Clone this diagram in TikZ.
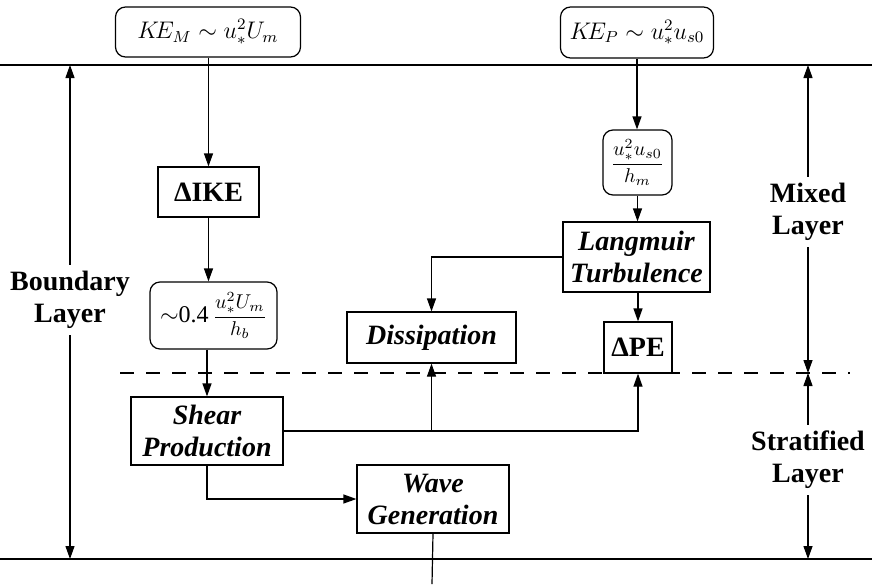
\documentclass[tikz,border=0pt]{standalone}
\usepackage{fontspec}
\setmainfont{Liberation Serif}
\usetikzlibrary{arrows.meta}

\tikzset{
  box/.style={draw, line width=0.6pt, inner sep=1pt, align=center,
    font=\fontsize{14}{16}\selectfont\bfseries\itshape},
  rbox/.style={box, rounded corners=5pt, font=\fontsize{12}{14}\selectfont},
  layer/.style={align=center, inner sep=3pt, font=\fontsize{14}{16}\selectfont\bfseries},
  arr/.style={-{Triangle[length=6.5pt,width=4.5pt]}, line width=0.6pt},
}
\newcommand{\ratio}[2]{{\fontsize{10}{12}\selectfont$\displaystyle\frac{#1}{#2}$}}

\begin{document}
\begin{tikzpicture}[x=0.5pt, y=-0.5pt, line width=0.6pt]
  \useasboundingbox (0,0) rectangle (872,584);

  % layer limits
  \coordinate (top) at (0,65);
  \coordinate (bot) at (0,559);
  \coordinate (mid) at (120,373);
  \draw (top) -- (872,65);
  \draw (bot) -- (872,559);
  \draw[dash pattern=on 7pt off 6pt] (mid) -- (850,373);

  % energy sources
  \node[rbox, minimum width=92.5pt, minimum height=25pt] (KEm) at (208,32) {$K\!E_M\sim u_*^2U_m$};
  \node[rbox, minimum width=76.5pt, minimum height=25.5pt] (KEp) at (637,32.5) {$K\!E_P\sim u_*^2u_{s0}$};

  \node[box, font=\fontsize{14}{16}\selectfont\bfseries, minimum width=50.5pt, minimum height=25pt] (dIKE) at (208.5,192) {ΔIKE};
  \node[rbox, minimum width=63.5pt, minimum height=33.5pt] (fracb) at (213.5,315.5) {$\sim$0.4\,\ratio{u_*^2U_m}{h_b}};
  \node[rbox, minimum width=34.5pt, minimum height=32.5pt] (fracm) at (637.5,162.5) {\ratio{u_*^2u_{s0}}{h_m}};

  \node[box, minimum width=73.5pt, minimum height=35pt] (lang) at (636.5,257) {Langmuir\\Turbulence};
  \node[box, minimum width=84.5pt, minimum height=25.5pt] (diss) at (431.5,337.5) {Dissipation};
  \node[box, font=\fontsize{14}{16}\selectfont\bfseries, minimum width=34pt, minimum height=25.5pt] (dPE) at (638,347.5) {ΔPE};
  \node[box, minimum width=76pt, minimum height=34pt] (shear) at (207,431) {Shear\\Production};
  \node[box, minimum width=76pt, minimum height=34pt] (wave) at (433,499) {Wave\\Generation};
  \coordinate (out) at (432,584);

  % flows
  \draw[arr] (KEm.south -| dIKE.north) -- (dIKE.north);
  \draw[arr] (dIKE.south) -- (dIKE.south |- fracb.north);
  \draw[arr] (fracb.south -| shear.north) -- (shear.north);
  \draw[arr] (KEp.south) -- (KEp.south |- fracm.north);
  \draw[arr] (fracm.south) -- (fracm.south |- lang.north);
  \draw[arr] (lang.west) -| (diss.north);
  \draw[arr] (lang.south -| dPE.north) -- (dPE.north);
  \draw[arr] (shear.east) -| (diss.south);
  \draw[arr] (shear.east) -| (dPE.south);
  \draw[arr] (shear.south) |- (wave.west);
  \draw (wave.south) -- (out);

  % layers
  \node[layer] (bl) at (70,300) {Boundary\\Layer};
  \draw[arr] (bl.north) -- (bl.north |- top);
  \draw[arr] (bl.south) -- (bl.south |- bot);
  \node[layer] (ml) at (808,212) {Mixed\\Layer};
  \draw[arr] (ml.north) -- (ml.north |- top);
  \draw[arr] (ml.south) -- (ml.south |- mid);
  \node[layer] (sl) at (808,460) {Stratified\\Layer};
  \draw[arr] (sl.north) -- (sl.north |- mid);
  \draw[arr] (sl.south) -- (sl.south |- bot);
\end{tikzpicture}
\end{document}
